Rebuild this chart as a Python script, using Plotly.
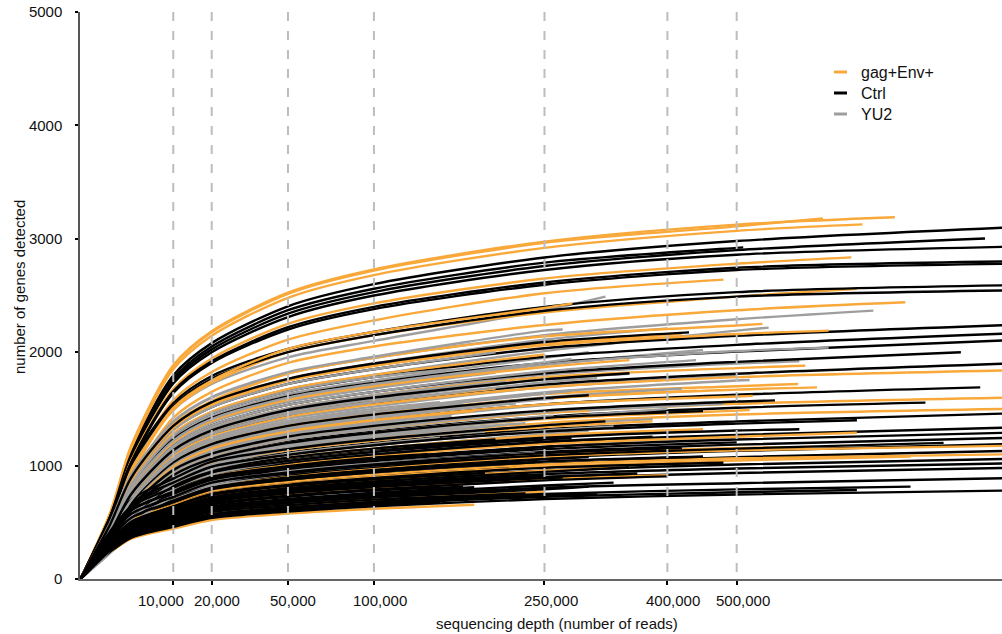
import math
import plotly.graph_objects as go

# ---------------- data ----------------
# sequencing depths (reads) at which every curve value is listed; each curve
# also carries its own final depth (end) and the value reached there.
ANCHOR_DEPTHS = [1000, 3000, 10000, 20000, 50000, 100000, 250000, 500000]

X_TICK_VALUES = [10000, 20000, 50000, 100000, 250000, 400000, 500000]
X_TICK_LABELS = ["10,000", "20,000", "50,000", "100,000", "250,000", "400,000", "500,000"]
Y_TICK_VALUES = [0, 1000, 2000, 3000, 4000, 5000]

GROUP_NAMES = ["gag+Env+", "Ctrl", "YU2"]

# gag+Env+ (orange)
orange_ends = [770000, 640000, 710000, 690000, 480000, 700000, 790000, 281000, 540000, 650000,
               610000, 1000000, 598000, 630000, 1000000, 1000000, 441000, 525000, 622000, 1000000,
               1000000, 180000, 250000, 400000, 350000, 450000, 380000, 300000, 700000, 520000,
               200000, 350000, 250000, 180000, 420000, 800000]
orange_values = [
    [575, 1175, 1885, 2185, 2525, 2730, 2975, 3125, 3190],
    [570, 1170, 1875, 2175, 2515, 2720, 2965, 3110, 3180],
    [560, 1150, 1850, 2145, 2480, 2680, 2920, 3070, 3127],
    [510, 1045, 1675, 1945, 2250, 2430, 2650, 2780, 2836],
    [480, 980, 1575, 1825, 2110, 2280, 2520, 2640],
    [455, 925, 1490, 1730, 2000, 2150, 2350, 2490, 2560],
    [435, 880, 1420, 1650, 1905, 2050, 2240, 2370, 2440],
    [460, 940, 1510, 1750, 2030, 2180, 2390, 2430],
    [410, 840, 1360, 1570, 1810, 1950, 2140, 2235, 2250],
    [400, 810, 1310, 1520, 1750, 1880, 2060, 2160, 2190],
    [405, 760, 1150, 1330, 1505, 1620, 1780, 1860, 1880],
    [385, 725, 1095, 1265, 1430, 1540, 1690, 1780, 1840],
    [370, 695, 1050, 1215, 1375, 1480, 1630, 1700, 1720],
    [365, 680, 1030, 1190, 1350, 1450, 1595, 1670, 1690],
    [335, 625, 945, 1090, 1235, 1330, 1465, 1545, 1600],
    [315, 590, 890, 1025, 1160, 1250, 1375, 1450, 1500],
    [365, 680, 1030, 1190, 1350, 1450, 1590, 1660],
    [350, 660, 995, 1150, 1300, 1400, 1540, 1610, 1615],
    [370, 570, 720, 840, 930, 1000, 1100, 1155, 1165],
    [360, 560, 705, 825, 910, 980, 1080, 1135, 1175],
    [340, 525, 660, 775, 855, 920, 1010, 1065, 1100],
    [230, 355, 445, 520, 577, 620, 655],
    [260, 400, 505, 590, 650, 700, 770],
    [295, 455, 575, 670, 745, 800, 880, 915],
    [320, 495, 625, 730, 810, 870, 955, 990],
    [425, 655, 830, 965, 1070, 1150, 1265, 1320],
    [450, 695, 880, 1025, 1135, 1220, 1340, 1390],
    [335, 625, 945, 1090, 1235, 1330, 1465, 1480],
    [400, 615, 780, 905, 1005, 1080, 1190, 1255, 1290],
    [320, 600, 910, 1050, 1190, 1280, 1410, 1485, 1490],
    [390, 735, 1110, 1280, 1450, 1560, 1680],
    [425, 800, 1205, 1395, 1580, 1700, 1870, 1930],
    [450, 845, 1280, 1475, 1675, 1800, 1980],
    [350, 660, 995, 1150, 1300, 1400, 1480],
    [470, 885, 1335, 1540, 1750, 1880, 2070, 2160],
    [335, 515, 650, 755, 835, 900, 990, 1045, 1080],
]

# Ctrl (black)
black_ends = [1000000, 950000, 1000000, 510000, 1000000, 1000000, 1000000, 1000000, 1000000, 1000000,
              1000000, 900000, 1000000, 940000, 829000, 1000000, 1000000, 1000000, 1000000, 1000000,
              1000000, 1000000, 1000000, 1000000, 865000, 700000, 150000, 200000, 300000, 180000,
              400000, 250000, 350000, 220000, 450000, 300000, 160000, 500000, 260000, 380000,
              600000, 200000, 700000, 320000, 450000, 560000, 300000, 350000, 430000, 130000,
              120000, 170000, 1000000, 1000000, 800000, 230000, 330000, 270000, 190000, 420000,
              280000, 210000, 360000, 240000, 480000, 140000, 310000]
black_values = [
    [545, 1120, 1795, 2080, 2405, 2600, 2835, 2980, 3100],
    [530, 1090, 1745, 2025, 2340, 2530, 2760, 2900, 3003],
    [525, 1075, 1725, 2000, 2310, 2500, 2725, 2860, 2930],
    [540, 1100, 1765, 2050, 2370, 2560, 2790, 2920, 2924],
    [505, 1030, 1655, 1920, 2220, 2400, 2615, 2745, 2800],
    [500, 1025, 1640, 1905, 2200, 2380, 2595, 2725, 2780],
    [545, 1025, 1550, 1790, 2030, 2180, 2400, 2530, 2590],
    [540, 1010, 1525, 1765, 2000, 2150, 2365, 2490, 2545],
    [460, 870, 1315, 1515, 1720, 1850, 2035, 2145, 2240],
    [445, 835, 1265, 1460, 1655, 1780, 1960, 2065, 2165],
    [430, 815, 1230, 1420, 1610, 1730, 1905, 2005, 2105],
    [410, 775, 1170, 1355, 1535, 1650, 1815, 1915, 2000],
    [390, 735, 1110, 1280, 1450, 1560, 1715, 1810, 1900],
    [350, 660, 995, 1150, 1300, 1400, 1540, 1625, 1690],
    [325, 610, 925, 1065, 1210, 1300, 1430, 1510, 1555],
    [445, 685, 865, 1010, 1115, 1200, 1320, 1390, 1460],
    [405, 625, 790, 920, 1020, 1095, 1205, 1270, 1335],
    [375, 580, 735, 855, 950, 1020, 1120, 1185, 1245],
    [360, 555, 700, 820, 905, 975, 1070, 1130, 1190],
    [340, 525, 665, 775, 860, 925, 1015, 1075, 1130],
    [320, 495, 625, 730, 810, 870, 955, 1010, 1060],
    [300, 460, 580, 675, 750, 805, 885, 935, 980],
    [270, 415, 525, 615, 680, 730, 805, 845, 890],
    [235, 365, 460, 540, 595, 640, 705, 745, 780],
    [365, 565, 715, 830, 920, 990, 1090, 1150, 1200],
    [245, 375, 475, 555, 615, 660, 725, 765, 785],
    [240, 370, 470, 545, 605, 650, 675],
    [250, 390, 490, 570, 630, 680, 730],
    [265, 410, 520, 605, 670, 720, 790, 815],
    [280, 435, 545, 640, 705, 760, 810],
    [290, 450, 570, 665, 735, 790, 870, 905],
    [305, 475, 600, 695, 770, 830, 910],
    [320, 490, 620, 720, 800, 860, 945, 985],
    [335, 515, 650, 755, 835, 900, 980],
    [350, 535, 675, 790, 875, 940, 1035, 1080],
    [355, 545, 690, 805, 895, 960, 1055, 1075],
    [370, 570, 720, 840, 930, 1000, 1045],
    [385, 595, 750, 875, 965, 1040, 1145, 1205],
    [390, 605, 765, 890, 985, 1060, 1165, 1170],
    [405, 625, 790, 925, 1025, 1100, 1210, 1255],
    [420, 645, 815, 950, 1050, 1130, 1245, 1310, 1320],
    [425, 655, 830, 965, 1070, 1150, 1230],
    [435, 675, 850, 990, 1095, 1180, 1300, 1370, 1400],
    [455, 700, 885, 1035, 1145, 1230, 1355, 1390],
    [320, 605, 915, 1060, 1200, 1290, 1420, 1480],
    [340, 635, 960, 1105, 1255, 1350, 1485, 1565, 1575],
    [365, 680, 1030, 1190, 1350, 1450, 1595, 1620],
    [400, 750, 1135, 1310, 1490, 1600, 1760, 1815],
    [475, 895, 1350, 1560, 1765, 1900, 2090, 2175],
    [265, 410, 520, 605, 670, 720, 740],
    [315, 485, 610, 715, 790, 850, 865],
    [290, 445, 560, 655, 725, 780, 815],
    [310, 480, 605, 705, 780, 840, 925, 975, 1020],
    [390, 605, 765, 890, 985, 1060, 1165, 1230, 1290],
    [250, 390, 490, 570, 630, 680, 750, 790, 815],
    [260, 400, 505, 590, 650, 700, 755],
    [275, 425, 540, 630, 700, 750, 825, 850],
    [300, 460, 585, 680, 755, 810, 890, 895],
    [325, 500, 635, 740, 820, 880, 935],
    [375, 575, 725, 850, 940, 1010, 1110, 1155],
    [415, 640, 805, 940, 1040, 1120, 1230, 1240],
    [275, 420, 535, 620, 690, 740, 790],
    [305, 465, 590, 690, 765, 820, 900, 930],
    [350, 540, 685, 800, 885, 950, 1030],
    [330, 505, 640, 750, 830, 890, 980, 1025],
    [395, 610, 770, 900, 995, 1070, 1100],
    [250, 380, 480, 565, 625, 670, 735, 745],
]

# YU2 (grey)
grey_ends = [320000, 730000, 550000, 400000, 300000, 450000, 200000, 600000, 350000, 250000,
             500000, 150000, 280000, 420000, 220000, 330000, 180000, 480000, 260000, 200000,
             380000, 150000, 300000, 89000, 240000, 350000, 130000, 200000, 120000, 650000,
             270000, 160000, 400000, 210000, 310000, 170000, 260000, 140000, 370000, 230000,
             190000, 330000, 110000, 280000, 440000, 160000, 520000, 240000]
grey_values = [
    [525, 985, 1490, 1720, 1955, 2100, 2370, 2490],
    [490, 915, 1385, 1600, 1815, 1950, 2150, 2290, 2367],
    [450, 845, 1280, 1475, 1675, 1800, 2010, 2190, 2217],
    [475, 895, 1350, 1560, 1765, 1900, 2110, 2210],
    [440, 820, 1240, 1435, 1630, 1750, 1950, 2000],
    [425, 800, 1205, 1395, 1580, 1700, 1890, 2020],
    [420, 790, 1195, 1380, 1560, 1680, 1820],
    [405, 760, 1150, 1330, 1505, 1620, 1800, 1900, 1920],
    [395, 745, 1120, 1295, 1470, 1580, 1760, 1810],
    [390, 730, 1100, 1270, 1440, 1550, 1720],
    [380, 715, 1080, 1245, 1415, 1520, 1690, 1790],
    [375, 705, 1065, 1230, 1395, 1500, 1560],
    [370, 690, 1045, 1205, 1365, 1470, 1635, 1660],
    [360, 675, 1020, 1180, 1340, 1440, 1600, 1680],
    [355, 670, 1010, 1165, 1320, 1420, 1550],
    [345, 650, 980, 1130, 1285, 1380, 1535, 1570],
    [340, 635, 960, 1105, 1255, 1350, 1430],
    [330, 620, 935, 1080, 1230, 1320, 1465, 1545],
    [325, 605, 915, 1060, 1200, 1290, 1435, 1440],
    [315, 590, 890, 1025, 1160, 1250, 1350],
    [305, 575, 865, 1000, 1135, 1220, 1355, 1410],
    [300, 560, 845, 975, 1105, 1190, 1245],
    [290, 540, 815, 945, 1070, 1150, 1280, 1310],
    [225, 420, 630, 730, 830, 890],
    [275, 515, 780, 900, 1025, 1100, 1200],
    [265, 495, 745, 860, 975, 1050, 1165, 1200],
    [400, 750, 1135, 1310, 1490, 1600, 1640],
    [465, 870, 1315, 1515, 1720, 1850, 2000],
    [250, 470, 710, 820, 930, 1000, 1020],
    [425, 800, 1205, 1395, 1580, 1700, 1890, 2010, 2040],
    [490, 920, 1390, 1605, 1825, 1960, 2190, 2200],
    [345, 650, 980, 1130, 1285, 1380, 1440],
    [320, 600, 910, 1050, 1190, 1280, 1420, 1500],
    [405, 760, 1150, 1330, 1505, 1620, 1740],
    [390, 735, 1110, 1280, 1450, 1560, 1735, 1770],
    [370, 695, 1050, 1215, 1375, 1480, 1540],
    [360, 670, 1015, 1175, 1330, 1430, 1585, 1590],
    [340, 640, 965, 1115, 1265, 1360, 1400],
    [335, 625, 945, 1090, 1235, 1330, 1475, 1530],
    [320, 595, 900, 1040, 1180, 1270, 1375],
    [310, 580, 875, 1010, 1145, 1230, 1300],
    [295, 555, 840, 970, 1095, 1180, 1310, 1345],
    [280, 525, 795, 920, 1040, 1120, 1130],
    [430, 810, 1220, 1410, 1600, 1720, 1910, 1940],
    [415, 775, 1170, 1355, 1535, 1650, 1830, 1930],
    [445, 835, 1265, 1460, 1655, 1780, 1850],
    [370, 695, 1050, 1215, 1375, 1480, 1645, 1750, 1755],
    [255, 480, 725, 835, 950, 1020, 1110],
]

COLORS = {"gag+Env+": "#F9A83A", "Ctrl": "#000000", "YU2": "#9E9E9E"}

# ---------------- build figure ----------------
FONT = "Liberation Sans, Arial, Helvetica, sans-serif"


def curve_xy(end, vals):
    mids = [a for a in ANCHOR_DEPTHS if a < end]
    mids = mids[:len(vals) - 1]
    depths = [0] + mids + [end]
    genes = [0] + vals[:len(mids)] + [vals[-1]]
    return [math.sqrt(d) for d in depths], genes


groups = {
    "gag+Env+": list(zip(orange_ends, orange_values)),
    "Ctrl": list(zip(black_ends, black_values)),
    "YU2": list(zip(grey_ends, grey_values)),
}

fig = go.Figure()
n_max = max(len(v) for v in groups.values())
for i in range(n_max):
    for name in ["Ctrl", "gag+Env+", "YU2"]:
        if i < len(groups[name]):
            end, vals = groups[name][i]
            xs, ys = curve_xy(end, vals)
            fig.add_trace(go.Scatter(
                x=xs, y=ys, mode="lines",
                line=dict(color=COLORS[name], width=2.4, shape="spline", smoothing=0.8),
                hoverinfo="skip", showlegend=False,
            ))

shapes = []
for v in X_TICK_VALUES:
    shapes.append(dict(type="line", xref="x", yref="paper",
                       x0=math.sqrt(v), x1=math.sqrt(v), y0=1, y1=0,
                       line=dict(color="#BDBDBD", width=2, dash="9px,10px"),
                       layer="above"))

# pixel helpers for text placed around the plot
L_LEFT, L_RIGHT = 80, 1002
P_TOP, P_BOT = 12, 579


def px_to_paper_x(px):
    return (px - L_LEFT) / (L_RIGHT - L_LEFT)


def px_to_paper_y(py):
    return (P_BOT - py) / (P_BOT - P_TOP)


annotations = []
# x tick labels: slightly offset to the right of their ticks (the first one
# nudged left so it does not collide with its neighbour), as in the reference
label_shift_px = [-12, 5, 5, 6, 7, 6, 6]
for v, lab, sh in zip(X_TICK_VALUES, X_TICK_LABELS, label_shift_px):
    annotations.append(dict(xref="x", yref="paper", x=math.sqrt(v), xshift=sh,
                            y=px_to_paper_y(600), text=lab, showarrow=False,
                            xanchor="center", yanchor="middle",
                            font=dict(family=FONT, size=15, color="#111")))

legend_rows = [72, 93, 114]
for name, row in zip(GROUP_NAMES, legend_rows):
    shapes.append(dict(type="line", xref="paper", yref="paper",
                       x0=px_to_paper_x(834), x1=px_to_paper_x(847),
                       y0=px_to_paper_y(row), y1=px_to_paper_y(row),
                       line=dict(color=COLORS[name], width=3)))
    annotations.append(dict(xref="paper", yref="paper", x=px_to_paper_x(859),
                            y=px_to_paper_y(row), text=name, showarrow=False,
                            xanchor="left", yanchor="middle",
                            font=dict(family=FONT, size=16, color="#111")))

annotations.append(dict(xref="paper", yref="paper", x=px_to_paper_x(557),
                        y=px_to_paper_y(623), text="sequencing depth (number of reads)",
                        showarrow=False, xanchor="center", yanchor="middle",
                        font=dict(family=FONT, size=15, color="#111")))
annotations.append(dict(xref="paper", yref="paper", x=px_to_paper_x(19),
                        y=px_to_paper_y(287), text="number of genes detected",
                        textangle=-90, showarrow=False, xanchor="center", yanchor="middle",
                        font=dict(family=FONT, size=15, color="#111")))

fig.update_layout(
    width=1002, height=634,
    margin=dict(l=80, r=0, t=12, b=55),
    paper_bgcolor="white", plot_bgcolor="white",
    showlegend=False, hovermode=False,
    shapes=shapes, annotations=annotations,
    font=dict(family=FONT, size=15, color="#111"),
    xaxis=dict(
        range=[-0.5, 993],
        tickmode="array", tickvals=[math.sqrt(v) for v in X_TICK_VALUES],
        showticklabels=False,
        ticks="outside", ticklen=4, tickwidth=2, tickcolor="#000",
        showline=True, linecolor="#666", linewidth=2,
        showgrid=False, zeroline=False, automargin=False,
    ),
    yaxis=dict(
        range=[0, 5000],
        tickmode="array", tickvals=Y_TICK_VALUES,
        ticks="outside", ticklen=3, tickwidth=2, tickcolor="#000",
        ticklabelstandoff=10,
        showline=True, linecolor="#555", linewidth=1.5,
        showgrid=False, zeroline=False, automargin=False,
        tickfont=dict(family=FONT, size=15, color="#111"),
    ),
)

fig.write_html("out.html", config={"displayModeBar": False},
               post_script="document.body.style.margin='0';")
